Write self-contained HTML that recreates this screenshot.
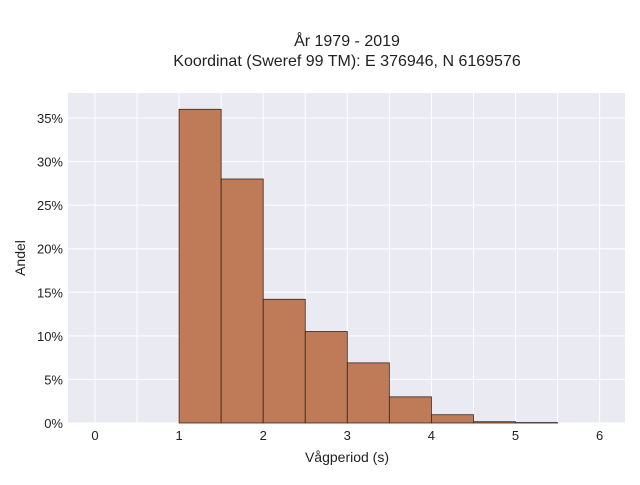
<!DOCTYPE html>
<html><head><meta charset="utf-8"><style>
body{margin:0;background:#fff;font-family:"Liberation Sans",sans-serif;}
svg text{font-family:"Liberation Sans",sans-serif;fill:#222;}
</style></head><body>
<svg id="chart" width="640" height="480" xmlns="http://www.w3.org/2000/svg">
<text x="347" y="46" font-size="16" text-anchor="middle">År 1979 - 2019</text>
<text x="347" y="66" font-size="16" text-anchor="middle">Koordinat (Sweref 99 TM): E 376946, N 6169576</text>
<rect x="68" y="93" width="557" height="330" fill="#eaeaf2"/>
<g id="grid"></g>
<g id="bars"></g>
<g id="ticks"></g>
<text x="347" y="462" font-size="14" text-anchor="middle">Vågperiod (s)</text>
<text transform="translate(25,258) rotate(-90)" font-size="14" text-anchor="middle">Andel</text>
</svg>
<script>
const binStarts=[1,1.5,2,2.5,3,3.5,4,4.5,5];
const binWidth=0.5;
const shares=[36.0,28.0,14.2,10.5,6.9,3.0,0.95,0.15,0.05];
const xTicks=[0,1,2,3,4,5,6];
const yTicks=[0,5,10,15,20,25,30,35];
const NS="http://www.w3.org/2000/svg";
const X=v=>95+v*84.1;
const Y=v=>423-v*8.714;
const grid=document.getElementById('grid'),bars=document.getElementById('bars'),ticks=document.getElementById('ticks');
for(let v=0;v<=6;v+=0.5){
 const l=document.createElementNS(NS,'line');
 
 
 l.setAttribute('x1',X(v));l.setAttribute('x2',X(v));l.setAttribute('y1',93);l.setAttribute('y2',423);
 l.setAttribute('stroke','#fff');l.setAttribute('stroke-width','1');grid.appendChild(l);
}
yTicks.forEach(v=>{
 const l=document.createElementNS(NS,'line');
 
 
 l.setAttribute('x1',68);l.setAttribute('x2',625);l.setAttribute('y1',Y(v));l.setAttribute('y2',Y(v));
 l.setAttribute('stroke','#fff');grid.appendChild(l);
 const t=document.createElementNS(NS,'text');
 
 
 t.setAttribute('x',63);t.setAttribute('y',Y(v)+5);t.setAttribute('font-size','13');t.setAttribute('text-anchor','end');
 t.textContent=v+'%';ticks.appendChild(t);
});
xTicks.forEach(v=>{
 const t=document.createElementNS(NS,'text');
 
 
 t.setAttribute('x',X(v));t.setAttribute('y',440);t.setAttribute('font-size','13');t.setAttribute('text-anchor','middle');
 t.textContent=v;ticks.appendChild(t);
});
binStarts.forEach((s,i)=>{
 const r=document.createElementNS(NS,'rect');
 
 
 r.setAttribute('x',X(s));r.setAttribute('width',X(s+binWidth)-X(s));
 r.setAttribute('y',Y(shares[i]));r.setAttribute('height',Y(0)-Y(shares[i]));
 r.setAttribute('fill','#bf7b57');r.setAttribute('stroke','#3a2418');r.setAttribute('stroke-width','0.8');
 bars.appendChild(r);
});
</script>
</body></html>
